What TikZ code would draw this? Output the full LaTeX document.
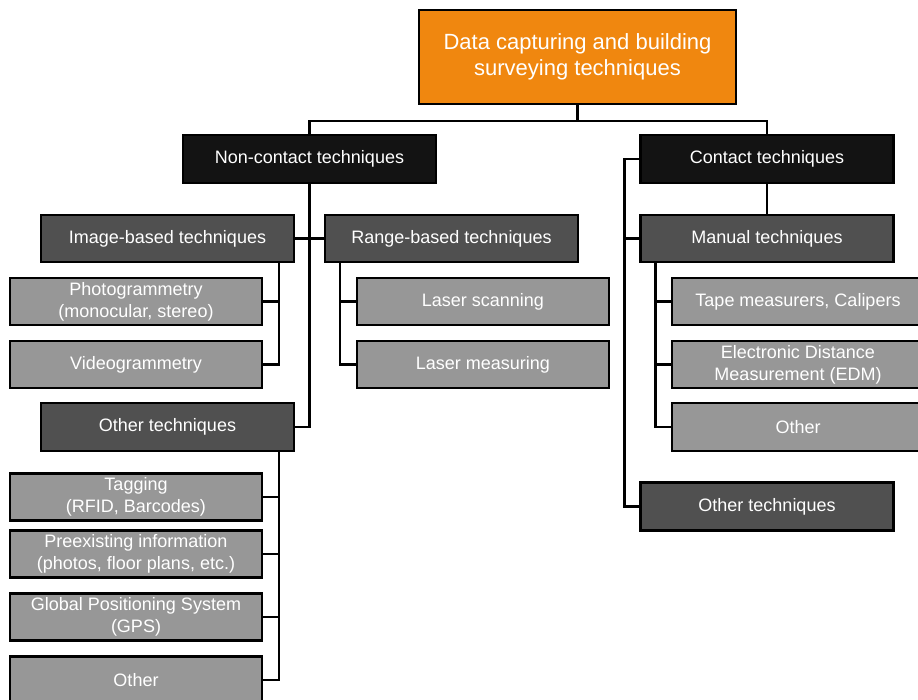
\documentclass[tikz,border=0pt]{standalone}
\usepackage{fontspec}
\setmainfont{Liberation Sans}
\usepackage{tikz}

\definecolor{topfill}{RGB}{240,135,15}
\definecolor{lvlone}{RGB}{19,19,19}
\definecolor{lvltwo}{RGB}{80,80,80}
\definecolor{leaffill}{RGB}{151,151,151}

\begin{document}
\begin{tikzpicture}[x=1pt,y=-1pt,
  box/.style={draw=black,line width=2.2pt,text=white,align=center,inner sep=0pt,
    minimum width=253pt,minimum height=47pt,font=\fontsize{18}{22}\selectfont},
  topbox/.style={box,fill=topfill,minimum width=317pt,minimum height=94pt,
    font=\fontsize{22}{26}\selectfont},
  mainbox/.style={box,fill=lvlone,minimum height=48pt},
  subbox/.style={box,fill=lvltwo},
  leafbox/.style={box,fill=leaffill,minimum width=252pt},
  link/.style={line width=2.2pt}]
\useasboundingbox (0,0) rectangle (918,700);

\node [topbox] (top) at (577.5,57) {Data capturing and building\\surveying techniques};
\node [mainbox] (noncontact) at (309.5,159) {Non-contact techniques};
\node [mainbox] (contact) at (767,159) {Contact techniques};

\node [subbox] (imgb) at (167.5,238.5) {Image-based techniques};
\node [subbox] (rangeb) at (451.5,238.5) {Range-based techniques};
\node [subbox,minimum height=48pt] (othl) at (167.5,427) {Other techniques};
\node [subbox] (manual) at (767,238.5) {Manual techniques};
\node [subbox,minimum height=48pt] (othr) at (767,506.5) {Other techniques};

\node [leafbox] (photo) at (136,301.5) {Photogrammetry\\(monocular, stereo)};
\node [leafbox] (video) at (136,364.5) {Videogrammetry};
\node [leafbox] (lscan) at (483,301.5) {Laser scanning};
\node [leafbox] (lmeas) at (483,364.5) {Laser measuring};
\node [leafbox] (tag) at (136,497) {Tagging\\(RFID, Barcodes)};
\node [leafbox] (pre) at (136,554) {Preexisting information\\(photos, floor plans, etc.)};
\node [leafbox] (gps) at (136,617) {Global Positioning System\\(GPS)};
\node [leafbox] (othleaf) at (136,680) {Other};
\node [leafbox] (tape) at (798,301.5) {Tape measurers, Calipers};
\node [leafbox] (edm) at (798,364.5) {Electronic Distance\\Measurement (EDM)};
\node [leafbox,minimum height=48pt] (othm) at (798,427) {Other};

% top level
\draw [link] (top.south) -- ++(0,16) -| (noncontact.north);
\draw [link] (top.south) -- ++(0,16) -| (contact.north);

% non-contact branch
\draw [link] (noncontact.south) |- (othl.east); \draw [link] (imgb.east) -- (rangeb.west);
\draw [link] ([xshift=-16pt]imgb.south east) |- (photo.east); \draw [link] ([xshift=-16pt]imgb.south east) |- (video.east);
\draw [link] ([xshift=16pt]rangeb.south west) |- (lscan.west); \draw [link] ([xshift=16pt]rangeb.south west) |- (lmeas.west);
\foreach \n in {tag,pre,gps,othleaf} \draw [link] ([xshift=-16pt]othl.south east) |- (\n.east);

% contact branch
\draw [link] (contact.south) -- (manual.north);
\draw [link] (contact.west) -- ++(-15,0) |- (manual.west); \draw [link] (contact.west) -- ++(-15,0) |- (othr.west);
\foreach \n in {tape,edm,othm} \draw [link] ([xshift=16pt]manual.south west) |- (\n.west);
\end{tikzpicture}
\end{document}
